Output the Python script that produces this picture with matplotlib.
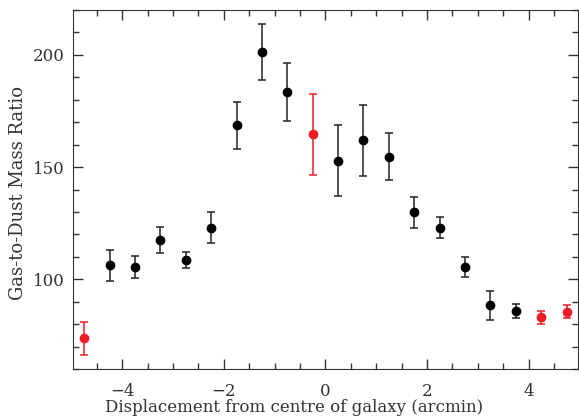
import numpy as np
import matplotlib
matplotlib.use("Agg")
import matplotlib.pyplot as plt
from matplotlib.ticker import MultipleLocator

# displacement (arcmin), ratio and error bar half-widths
x_black = [-4.25, -3.75, -3.25, -2.75, -2.25, -1.75, -1.25, -0.75,
           0.25, 0.75, 1.25, 1.75, 2.25, 2.75, 3.25, 3.75]
y_black = [106.2, 105.6, 117.4, 108.8, 123.0, 168.6, 201.2, 183.4,
           152.8, 161.9, 154.7, 129.9, 123.0, 105.6, 88.4, 85.7]
err_black = [6.8, 5.0, 5.7, 3.6, 6.8, 10.5, 12.6, 13.0,
             15.8, 15.9, 10.4, 7.0, 4.8, 4.5, 6.5, 3.1]

x_red = [-4.75, -0.25, 4.25, 4.75]
y_red = [73.7, 164.6, 83.0, 85.5]
err_red = [7.2, 18.2, 2.9, 2.9]

plt.rcParams["font.family"] = "DejaVu Serif"

fig = plt.figure(figsize=(5.79, 4.18), dpi=100)
ax = fig.add_axes([0.126, 0.117, 0.872, 0.859])

ax.errorbar(x_black, y_black, yerr=err_black, fmt="o", color="black",
            ecolor="#222222", elinewidth=1.1, capsize=3, capthick=1.1,
            markersize=6)
ax.errorbar(x_red, y_red, yerr=err_red, fmt="o", color="#ee1c24",
            ecolor="#ee1c24", elinewidth=1.1, capsize=3, capthick=1.1,
            markersize=6)

ax.set_xlim(-4.97, 4.97)
ax.set_ylim(60, 220)
ax.xaxis.set_major_locator(MultipleLocator(2))
ax.xaxis.set_minor_locator(MultipleLocator(0.5))
ax.yaxis.set_major_locator(MultipleLocator(50))
ax.yaxis.set_minor_locator(MultipleLocator(10))
ax.tick_params(which="both", direction="in", top=True, right=True,
               labelsize=12, colors="#333333")
ax.tick_params(which="major", length=7, width=1)
ax.tick_params(which="minor", length=4, width=1)
ax.tick_params(axis="x", pad=10)
ax.tick_params(axis="y", pad=6)
for s in ax.spines.values():
    s.set_color("#333333")

ax.set_xlabel("Displacement from centre of galaxy (arcmin)", fontsize=12,
              color="#333333", va="center")
ax.xaxis.set_label_coords(0.438, -0.108)
ax.set_ylabel("Gas-to-Dust Mass Ratio", fontsize=13, color="#333333",
              va="center")
ax.yaxis.set_label_coords(-0.109, 0.49)

plt.savefig("out.png", dpi=100)
